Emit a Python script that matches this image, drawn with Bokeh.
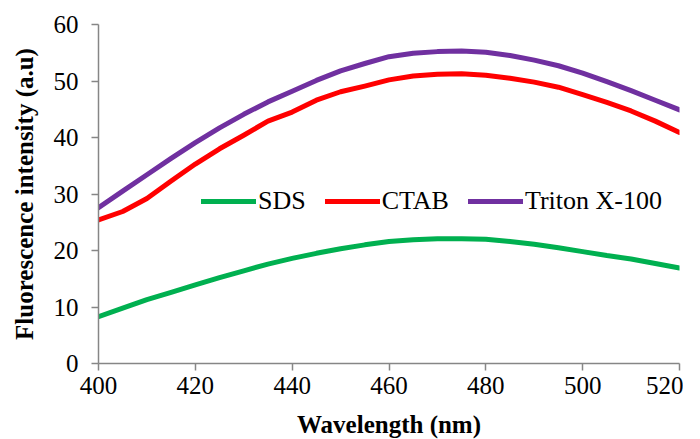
from bokeh.plotting import figure
from bokeh.models import Legend, LegendItem, FixedTicker, Range1d
from bokeh.embed import file_html
from bokeh.resources import INLINE

wavelength = [400, 405, 410, 415, 420, 425, 430, 435, 440, 445, 450, 455, 460,
              465, 470, 475, 480, 485, 490, 495, 500, 505, 510, 515, 520]
sds = [8.3, 9.8, 11.3, 12.6, 13.9, 15.2, 16.4, 17.6, 18.6, 19.5, 20.3, 21.0, 21.6,
       21.9, 22.1, 22.1, 22.0, 21.6, 21.1, 20.5, 19.8, 19.1, 18.5, 17.7, 16.9]
ctab = [25.4, 26.9, 29.2, 32.3, 35.3, 38.0, 40.4, 42.9, 44.5, 46.6, 48.1, 49.1, 50.2,
        50.9, 51.2, 51.3, 51.0, 50.5, 49.8, 48.9, 47.6, 46.2, 44.7, 42.9, 40.9]
triton = [27.6, 30.5, 33.4, 36.3, 39.1, 41.7, 44.1, 46.3, 48.2, 50.1, 51.8, 53.1, 54.3,
          54.9, 55.2, 55.3, 55.1, 54.5, 53.7, 52.7, 51.4, 49.9, 48.3, 46.6, 44.9]
series_names = ["SDS", "CTAB", "Triton X-100"]
series_colors = ["#00B050", "#FF0000", "#7030A0"]
x_ticks = [400, 420, 440, 460, 480, 500, 520]
y_ticks = [0, 10, 20, 30, 40, 50, 60]

p = figure(frame_width=581, frame_height=339, output_backend="svg",
           toolbar_location=None, x_range=Range1d(400, 520), y_range=Range1d(0, 60),
           min_border_left=98, min_border_right=4, min_border_top=24, min_border_bottom=76)
p.outline_line_color = None
p.xgrid.visible = False
p.ygrid.visible = False
p.background_fill_color = "white"
p.border_fill_color = "white"

renderers = []
for ys, c in zip([sds, ctab, triton], series_colors):
    r = p.line(wavelength, ys, line_color=c, line_width=5, line_cap="round", line_join="round")
    renderers.append(r)

for ax in (p.xaxis[0], p.yaxis[0]):
    ax.axis_line_color = "#868686"
    ax.axis_line_width = 1.5
    ax.major_tick_line_color = "#868686"
    ax.major_tick_line_width = 1.5
    ax.major_tick_out = 7
    ax.major_tick_in = 0
    ax.minor_tick_line_color = None
    ax.major_label_text_font = "Liberation Serif"
    ax.major_label_text_font_size = "25px"
    ax.major_label_text_color = "black"
    ax.axis_label_text_font = "Liberation Serif"
    ax.axis_label_text_font_size = "25px"
    ax.axis_label_text_font_style = "bold"
    ax.axis_label_text_color = "black"

p.xaxis[0].ticker = FixedTicker(ticks=x_ticks)
p.yaxis[0].ticker = FixedTicker(ticks=y_ticks)
p.xaxis[0].axis_label = "Wavelength (nm)"
p.yaxis[0].axis_label = "Fluorescence intensity (a.u)"
p.xaxis[0].major_label_standoff = 6
p.xaxis[0].axis_label_standoff = 14
p.yaxis[0].major_label_standoff = 13
p.yaxis[0].axis_label_standoff = 13

legend = Legend(items=[LegendItem(label=n, renderers=[r]) for n, r in zip(series_names, renderers)],
                orientation="horizontal", location=(103, 147),
                label_text_font="Liberation Serif", label_text_font_size="26px",
                label_text_color="black", glyph_width=55, glyph_height=24,
                label_standoff=2, spacing=19, padding=4,
                border_line_color=None, background_fill_alpha=0)
p.add_layout(legend, "center")

open("out.html", "w").write(file_html(p, INLINE))
